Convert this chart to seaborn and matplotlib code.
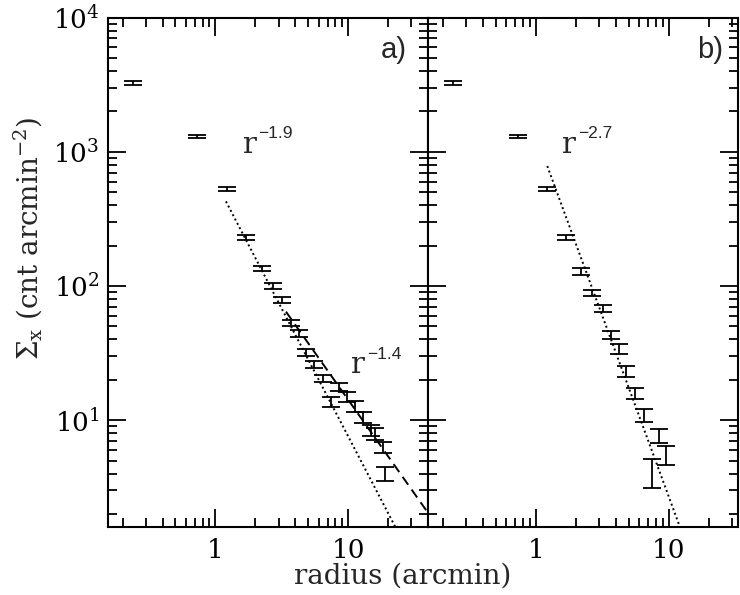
import numpy as np
import pandas as pd
import matplotlib
matplotlib.use("Agg")
import matplotlib.pyplot as plt
from matplotlib.ticker import LogLocator, FuncFormatter, NullFormatter
import seaborn as sns

# Surface brightness profiles (counts per arcmin^2) versus radius (arcmin)
radius_a = [0.24, 0.73, 1.22, 1.70, 2.25, 2.72, 3.2, 3.7, 4.3, 4.8, 5.5,
            6.5, 7.4, 8.5, 9.8, 11.2, 12.9, 14.9, 16.0, 18.3, 19.1]
sigma_a = [3260, 1290, 527, 231, 136, 100, 79, 53, 44, 32, 26,
           20.5, 13.7, 17.7, 14.9, 12.7, 10.6, 8.4, 7.9, 6.3, 4.0]
err_a = [115, 33, 18, 10, 6, 5.3, 4, 3, 2.6, 2.0, 1.6,
         1.3, 1.1, 1.3, 1.2, 1.1, 1.0, 0.8, 0.8, 0.6, 0.5]

radius_b = [0.24, 0.73, 1.21, 1.68, 2.18, 2.63, 3.17, 3.64, 4.20, 4.74,
            5.53, 6.47, 8.37, 9.48, 7.46]
sigma_b = [3260, 1290, 527, 231, 128, 89, 68, 43, 34, 23.3,
           15.8, 10.9, 7.7, 5.5, 4.1]
err_b = [115, 33, 18, 10, 7, 5, 4, 3, 3, 2.2,
         1.5, 1.2, 0.95, 0.88, 1.0]

# Power-law models: index, normalisation at r = 1', radial range drawn
index_a_inner, norm_a_inner, range_a_inner = -1.9, 603, (1.2, 26)
index_a_outer, norm_a_outer, range_a_outer = -1.4, 357, (3.4, 45)
index_b, norm_b, range_b = -2.7, 1337, (1.22, 14)

sns.set_theme(style="ticks")
plt.rcParams["font.family"] = ["DejaVu Serif"]
plt.rcParams["mathtext.fontset"] = "dejavuserif"

fig = plt.figure(figsize=(7.4, 5.95), dpi=100)
ax_a = fig.add_axes([108 / 740, 68 / 595, 320 / 740, 509.5 / 595])
ax_b = fig.add_axes([428 / 740, 68 / 595, 310 / 740, 509.5 / 595], sharey=ax_a)


def power_law(index, norm, rng):
    r = np.logspace(np.log10(rng[0]), np.log10(rng[1]), 200)
    return pd.DataFrame({"r": r, "s": norm * r ** index})


def style_axis(ax, xmax, show_ylabels):
    ax.set_xscale("log")
    ax.set_yscale("log")
    ax.set_xlim(0.155, xmax)
    ax.set_ylim(1.6, 1e4)
    ax.xaxis.set_major_locator(LogLocator(base=10))
    ax.xaxis.set_minor_locator(LogLocator(base=10, subs=np.arange(2, 10)))
    ax.yaxis.set_major_locator(LogLocator(base=10))
    ax.yaxis.set_minor_locator(LogLocator(base=10, subs=np.arange(2, 10)))
    ax.xaxis.set_major_formatter(FuncFormatter(lambda v, p: f"{v:g}"))
    ax.xaxis.set_minor_formatter(NullFormatter())
    ax.yaxis.set_minor_formatter(NullFormatter())
    if show_ylabels:
        ax.yaxis.set_major_formatter(
            FuncFormatter(lambda v, p: r"$10^{%d}$" % round(np.log10(v))))
    else:
        ax.tick_params(axis="y", which="both", labelleft=False)
    ax.tick_params(which="both", direction="in", top=True, right=True,
                   color="black", width=1.3, labelsize=19, labelcolor="black")
    ax.tick_params(which="major", length=13)
    ax.tick_params(which="minor", length=6.5)
    ax.tick_params(axis="x", which="major", pad=8)
    ax.tick_params(axis="y", which="major", pad=6)
    for sp in ax.spines.values():
        sp.set_visible(True)
        sp.set_color("black")
        sp.set_linewidth(1.5)
    ax.set_xlabel("")
    ax.set_ylabel("")
    ax.set_facecolor("white")


def draw_errors(ax, r, s, e):
    ax.errorbar(r, s, yerr=e, fmt="none", ecolor="black", elinewidth=1.3,
                capsize=6.5, capthick=1.3)


def draw_model(ax, df, ls):
    sns.lineplot(data=df, x="r", y="s", ax=ax, color="black", lw=1.4,
                 linestyle=ls, sort=False, legend=False)


def power_label(ax, x, y, expo):
    ax.text(x, y, "r", fontsize=21, family="DejaVu Serif", ha="left",
            va="baseline")
    ax.annotate(expo, xy=(x, y), xytext=(11.5, 10.5),
                textcoords="offset points", fontsize=12.5,
                family="Liberation Sans", ha="left", va="baseline")


# panel a
draw_errors(ax_a, radius_a, sigma_a, err_a)
draw_model(ax_a, power_law(index_a_inner, norm_a_inner, range_a_inner),
           (0, (1, 1.5)))
draw_model(ax_a, power_law(index_a_outer, norm_a_outer, range_a_outer),
           (0, (5, 3)))
style_axis(ax_a, 40, True)
power_label(ax_a, 1.60, 977, "\u22121.9")
power_label(ax_a, 10.5, 22.3, "\u22121.4")
ax_a.text(27.5, 5000, "a)", fontsize=21, family="Liberation Sans",
          ha="right", va="baseline")

# panel b
draw_errors(ax_b, radius_b, sigma_b, err_b)
draw_model(ax_b, power_law(index_b, norm_b, range_b), (0, (1, 1.5)))
style_axis(ax_b, 33, False)
power_label(ax_b, 1.57, 977, "\u22122.7")
ax_b.text(25.5, 5000, "b)", fontsize=21, family="Liberation Sans",
          ha="right", va="baseline")

fig.text(403 / 740, 1 - 576 / 595, "radius (arcmin)", fontsize=20,
         ha="center", va="center")
fig.text(28 / 740, 1 - 238 / 595,
         r"$\Sigma_{\rm x}$ (cnt arcmin$^{-2}$)", fontsize=20,
         rotation=90, ha="center", va="center")

fig.savefig("out.png", dpi=100, facecolor="white")
